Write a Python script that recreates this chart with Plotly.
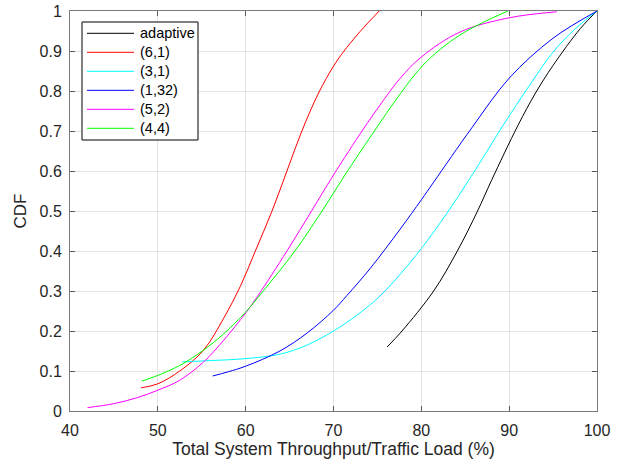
import plotly.graph_objects as go

# ---- data ----
names = ["adaptive", "(6,1)", "(3,1)", "(1,32)", "(5,2)", "(4,4)"]
colors = ["#000000", "#ff0000", "#00ffff", "#0000ff", "#ff00ff", "#00ff00"]

adaptive_x = [76.1, 77.8, 81.4, 84.1, 86.4, 88.0, 91.0, 93.0, 95.0, 98.1, 100]
adaptive_y = [0.16, 0.20, 0.30, 0.40, 0.50, 0.577, 0.714, 0.795, 0.864, 0.956, 1.0]

s61_x = [48.1, 50, 52.5, 55.2, 57.5, 59.4, 61.1, 63.0, 64.7, 66.4, 68.3, 70, 71.1, 73, 75.2]
s61_y = [0.058, 0.068, 0.10, 0.152, 0.232, 0.312, 0.40, 0.50, 0.60, 0.70, 0.795, 0.862, 0.897, 0.948, 1.0]

s31_x = [52.8, 56, 60, 63.9, 67, 70, 72, 74.2, 75.5, 77.6, 80, 82.9, 85.4, 87.5, 89.3, 92.5, 95, 97.5, 100]
s31_y = [0.123, 0.126, 0.131, 0.142, 0.165, 0.20, 0.229, 0.266, 0.292, 0.342, 0.406, 0.494, 0.577, 0.65, 0.714, 0.82, 0.8975, 0.955, 1.0]

s132_x = [56.25, 58, 60, 63.9, 67, 70, 71.5, 74.2, 77.6, 80, 81.4, 85.75, 90, 95, 100]
s132_y = [0.0875, 0.098, 0.112, 0.15, 0.195, 0.252, 0.288, 0.357, 0.455, 0.528, 0.572, 0.708, 0.832, 0.932, 1.0]

s52_x = [42, 44.9, 47.6, 50, 52.5, 55.2, 57.5, 60, 61.45, 64.7, 67.5, 70, 73.4, 75.3, 77.6, 80, 84.4, 90, 95.4]
s52_y = [0.0085, 0.018, 0.033, 0.052, 0.077, 0.1225, 0.177, 0.245, 0.29, 0.40, 0.50, 0.59, 0.705, 0.765, 0.832, 0.885, 0.9475, 0.983, 0.998]

s44_x = [48.2, 50, 52.5, 55.2, 57.5, 60, 62, 65.6, 68.7, 71.3, 74.5, 77.6, 80, 82.2, 84.4, 86.7, 89.85]
s44_y = [0.075, 0.089, 0.114, 0.152, 0.193, 0.2475, 0.30, 0.40, 0.50, 0.59, 0.695, 0.793, 0.860, 0.905, 0.940, 0.968, 1.0]

xs_all = [adaptive_x, s61_x, s31_x, s132_x, s52_x, s44_x]
ys_all = [adaptive_y, s61_y, s31_y, s132_y, s52_y, s44_y]

x_ticks = [40, 50, 60, 70, 80, 90, 100]
y_ticks = [0, 0.1, 0.2, 0.3, 0.4, 0.5, 0.6, 0.7, 0.8, 0.9, 1]
y_tick_text = ["0", "0.1", "0.2", "0.3", "0.4", "0.5", "0.6", "0.7", "0.8", "0.9", "1"]

FONT = "Liberation Sans, Arial, sans-serif"
W, H = 624, 465
ML, MR, MT, MB = 70, 27, 11, 54
PW, PH = W - ML - MR, H - MT - MB

fig = go.Figure()
for name, xs, ys, color in zip(names, xs_all, ys_all, colors):
    fig.add_trace(go.Scatter(
        x=xs, y=ys, mode="lines", name=name, showlegend=False,
        line=dict(color=color, width=1, shape="spline", smoothing=1.0),
    ))

# ---- legend box (MATLAB style) ----
def px_to_paper(px, py):
    return (px - ML) / PW, (H - MB - py) / PH

lx0, ly0 = px_to_paper(82, 22)
lx1, ly1 = px_to_paper(198, 140)
fig.add_shape(type="rect", xref="paper", yref="paper", x0=lx0, y0=ly1, x1=lx1, y1=ly0,
              line=dict(color="#000000", width=1), fillcolor="white", layer="above")
row0, row_step = 33.3, 19.0
for i, (name, color) in enumerate(zip(names, colors)):
    py = row0 + i * row_step
    ax0, ay = px_to_paper(87, py)
    ax1, _ = px_to_paper(134, py)
    fig.add_shape(type="line", xref="paper", yref="paper", x0=ax0, y0=ay, x1=ax1, y1=ay,
                  line=dict(color=color, width=1), layer="above")
    tx, _ = px_to_paper(137.5, py)
    fig.add_annotation(x=tx, y=ay, xref="paper", yref="paper", text=name, showarrow=False,
                       xanchor="left", yanchor="middle",
                       font=dict(family=FONT, size=14.5, color="#000000"))

axis_common = dict(
    showline=True, linecolor="#7a7a7a", linewidth=1, mirror="allticks",
    ticks="inside", ticklen=5, tickcolor="#5a5a5a", tickwidth=1,
    showgrid=True, gridcolor="#e3e3e3", gridwidth=1, zeroline=False,
    tickfont=dict(family=FONT, size=16, color="#262626"),
)

fig.update_layout(
    width=W, height=H,
    margin=dict(l=ML, r=MR, t=MT, b=MB, autoexpand=False),
    paper_bgcolor="white", plot_bgcolor="white",
    showlegend=False,
    xaxis=dict(range=[40, 100], tickvals=x_ticks, ticklabelstandoff=5,
               title=dict(text="Total System Throughput/Traffic Load (%)", standoff=4,
                          font=dict(family=FONT, size=17.5, color="#262626")),
               **axis_common),
    yaxis=dict(range=[0, 1], tickvals=y_ticks, ticktext=y_tick_text, ticklabelstandoff=4,
               title=dict(text="CDF", standoff=8,
                          font=dict(family=FONT, size=17, color="#262626")),
               **axis_common),
)

fig.write_html("out.html")
